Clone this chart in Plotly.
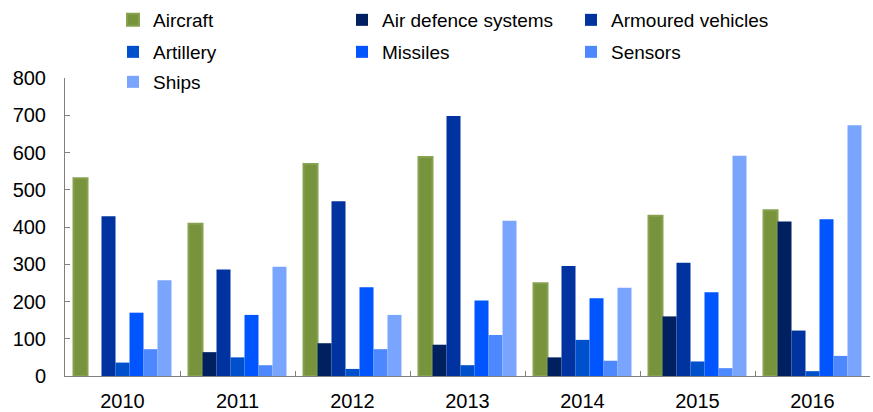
import plotly.graph_objects as go

years = ["2010", "2011", "2012", "2013", "2014", "2015", "2016"]

aircraft = [531, 409, 569, 588, 249, 430, 445]
air_defence = [0, 64, 88, 84, 50, 160, 415]
armoured = [429, 286, 469, 698, 295, 304, 122]
artillery = [36, 50, 19, 29, 97, 39, 13]
missiles = [170, 164, 238, 203, 209, 225, 421]
sensors = [72, 29, 72, 110, 41, 21, 54]
ships = [257, 293, 164, 417, 237, 591, 673]

series = [
    ("Aircraft", aircraft, "#77933C"),
    ("Air defence systems", air_defence, "#002060"),
    ("Armoured vehicles", armoured, "#0033A0"),
    ("Artillery", artillery, "#0050CC"),
    ("Missiles", missiles, "#0055FF"),
    ("Sensors", sensors, "#4D88FF"),
    ("Ships", ships, "#7AA5FF"),
]

family = "Liberation Sans, Arial, sans-serif"
axis_font = dict(family=family, size=20, color="#000000")

# legend grid: three columns, three rows (pixel positions in the page)
col_left = [113, 342, 571]
row_mid = [20, 52, 82]

fig = go.Figure()
legends = {}
for i, (name, vals, color) in enumerate(series):
    key = "legend" if i == 0 else f"legend{i + 1}"
    line = dict(width=0)
    if name == "Aircraft":
        line = dict(width=2, color="#86A150")
    fig.add_trace(go.Bar(x=years, y=vals, name=name, legend=key, showlegend=True,
                         marker=dict(color=color, line=line)))
    legends[key] = dict(
        orientation="h", xref="container", yref="container",
        x=col_left[i % 3] / 873, y=1 - row_mid[i // 3] / 412,
        xanchor="left", yanchor="middle",
        font=dict(family=family, size=19, color="#000000"),
        bgcolor="rgba(0,0,0,0)",
    )

fig.update_layout(
    width=873, height=412,
    showlegend=True,
    margin=dict(l=65, r=3, t=78, b=36, autoexpand=False),
    paper_bgcolor="white", plot_bgcolor="white",
    barmode="group", bargap=0.148, bargroupgap=0,
    font=axis_font,
    xaxis=dict(
        showline=True, linecolor="#808080", linewidth=1,
        ticks="inside", ticklen=5, tickcolor="#808080", tickson="boundaries",
        showgrid=False, ticklabelstandoff=7, tickfont=axis_font,
    ),
    yaxis=dict(
        range=[0, 800], dtick=100, showline=True, linecolor="#808080", linewidth=1,
        ticks="inside", ticklen=5, tickcolor="#808080",
        showgrid=False, zeroline=False, ticklabelstandoff=14, tickfont=axis_font,
    ),
    **legends,
)

fig.write_html("out.html")
